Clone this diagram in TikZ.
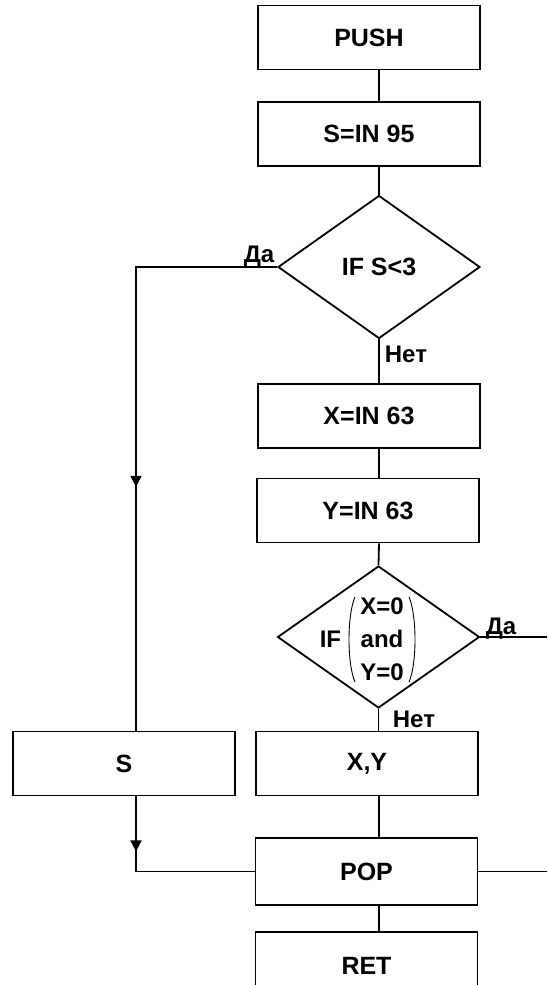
\documentclass[tikz,border=0pt]{standalone}
\usepackage{fontspec}
\setmainfont{Liberation Sans}
\usetikzlibrary{shapes.geometric,decorations.markings,arrows.meta}

\begin{document}
\begin{tikzpicture}[x=1pt,y=-1pt,line width=1.8pt,
  box/.style={draw,minimum width=222pt,minimum height=64pt,inner sep=0pt,
    font=\fontsize{25}{30}\selectfont\bfseries},
  dia/.style={draw,diamond,inner sep=0pt,minimum width=202pt,minimum height=143pt},
  dtext/.style={inner sep=0pt,font=\fontsize{25}{30}\selectfont\bfseries},
  ctext/.style={inner sep=0pt,font=\fontsize{24}{30}\selectfont\bfseries},
  lbl/.style={inner sep=0pt,font=\fontsize{24}{28}\selectfont\bfseries},
  paren/.style={line width=0.9pt},
  midarrow/.style={postaction={decorate},decoration={markings,
    mark=at position #1 with {\arrow{Triangle[length=11pt,width=11pt]}}}}]
  \path[use as bounding box] (0,0) rectangle (547,985);
  \clip (0,0) rectangle (547,985);

  % vertical guides for the main trunk and the left branch
  \coordinate (cx) at (379,0);
  \coordinate (lx) at (136,0);

  % blocks
  \node[box] (push) at (369,37.5) {PUSH};
  \node[box] (sin)  at (369,134)  {S=IN 95};
  \node[dia] (d1)   at (379,267)  {};
  \node[dtext] (t1) at (379,267)  {IF S<3};
  \node[box] (xin)  at (369,416)  {X=IN 63};
  \node[box] (yin)  at (368,510.5) {Y=IN 63};
  \node[dia,minimum height=142pt] (d2) at (378.5,637) {};

  % compound condition: IF ( X=0 and Y=0 )
  \node[ctext,anchor=east] (cif)  at (342,639) {IF};
  \node[ctext] (cx0)  at (382,606) {X=0};
  \node[ctext] (cand) at (382,639) {and};
  \node[ctext] (cy0)  at (382,672) {Y=0};
  \draw[paren] (355,597) .. controls (347,615) and (347,664) .. (355,682);
  \draw[paren] (409,597) .. controls (417,615) and (417,664) .. (409,682);

  \node[box] (s)    at (124,763.5) {S};
  \node[box] (xy)   at (367,763.5) {X,Y};
  \node[box,minimum height=67pt] (pop) at (366.5,871.5) {POP};
  \node[box,minimum height=68pt] (ret) at (366.5,966) {RET};

  % branch labels
  \node[lbl,anchor=base west] (da1)  at (243,262) {Да};
  \node[lbl,anchor=base west] (net1) at (384,362) {Нет};
  \node[lbl,anchor=base west] (da2)  at (485,634) {Да};
  \node[lbl,anchor=base west] (net2) at (392,727) {Нет};

  % open ends on the right
  \coordinate (e1) at (547,637);
  \coordinate (e2) at (547,871.5);

  % connectors
  \draw (push.south -| cx) -- (sin.north -| cx);
  \draw (sin.south -| cx) -- (d1.north);
  \draw (d1.south) -- (xin.north -| cx);
  \draw (xin.south -| cx) -- (yin.north -| cx);
  \draw (yin.south -| cx) -- (d2.north);
  \draw (d2.south) -- (xy.north -| d2.south);
  \draw (xy.south -| cx) -- (pop.north -| cx);
  \draw (pop.south -| cx) -- (ret.north -| cx);
  \draw[midarrow=361pt] (d1.west) -| (s.north -| lx);
  \draw[midarrow=55pt] (s.south -| lx) |- (pop.west);
  \draw (d2.east) -- (e1);
  \draw (pop.east) -- (e2);
\end{tikzpicture}
\end{document}
